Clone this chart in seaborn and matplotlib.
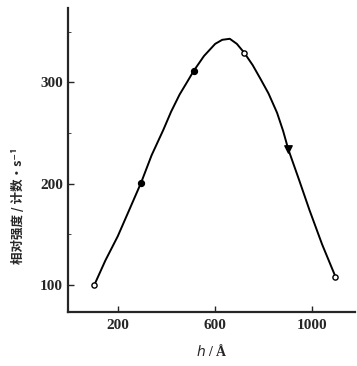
import matplotlib
matplotlib.use("Agg")
import matplotlib.pyplot as plt
import seaborn as sns
import pandas as pd

sns.set_style("ticks")
plt.rcParams['font.family'] = ['Liberation Serif', 'Noto Sans CJK SC', 'DejaVu Sans']

# measured points
h_pts = [105, 297, 512, 721, 901, 1095]
I_pts = [100, 201, 311, 329, 234, 108]
marker = ['open', 'filled', 'filled', 'open', 'tri', 'open']
# curve
h_curve = [105, 150, 201, 250, 297, 340, 388, 420, 455, 485, 512, 555, 601, 630, 661, 690, 721, 755, 788, 820, 855, 880, 901, 945, 988, 1040, 1095]
I_curve = [100, 124, 148, 175, 201, 228, 253, 271, 288, 300, 311, 326, 338, 342, 343, 338, 329, 317, 303, 289, 270, 252, 234, 204, 174, 140, 108]

xticks = [200, 600, 1000]
yticks = [100, 200, 300]

fig = plt.figure(figsize=(3.57, 3.66), dpi=100)
ax = fig.add_axes([0.19, 0.147, 0.805, 0.83])

sns.lineplot(x=h_curve, y=I_curve, ax=ax, color='black', lw=1.4, sort=False)
df = pd.DataFrame({'h': h_pts, 'I': I_pts, 'm': marker})
f = df[df.m == 'filled']
o = df[df.m == 'open']
t = df[df.m == 'tri']
ax.scatter(f.h, f.I, s=18, color='black', zorder=3)
ax.scatter(t.h, t.I, s=28, marker='v', color='black', zorder=3)
ax.scatter(o.h, o.I, s=14, facecolor='white', edgecolor='black', lw=1.0, zorder=3)

ax.set_xlim(-4, 1176)
ax.set_ylim(73, 373)
ax.set_xticks(xticks)
ax.set_yticks(yticks)
ax.set_yticks([150, 250, 350], minor=True)
ax.tick_params(direction='in', length=4, width=1, labelsize=11)
ax.tick_params(axis='x', pad=5)
ax.tick_params(which='minor', direction='in', length=2)
for lab in ax.get_xticklabels() + ax.get_yticklabels():
    lab.set_fontweight('bold')
sns.despine(ax=ax)
for s in ['left', 'bottom']:
    ax.spines[s].set_linewidth(1.6)

ax.set_xlabel(r'$h$ / Å', fontsize=10, fontweight='bold', labelpad=8)
ax.set_ylabel('相对强度 / 计数·s⁻¹', fontsize=9, fontweight='bold',
              family=['Noto Sans CJK SC', 'DejaVu Sans'])
ax.yaxis.set_label_coords(-0.15, 0.35)

fig.savefig('out.png', dpi=100)
